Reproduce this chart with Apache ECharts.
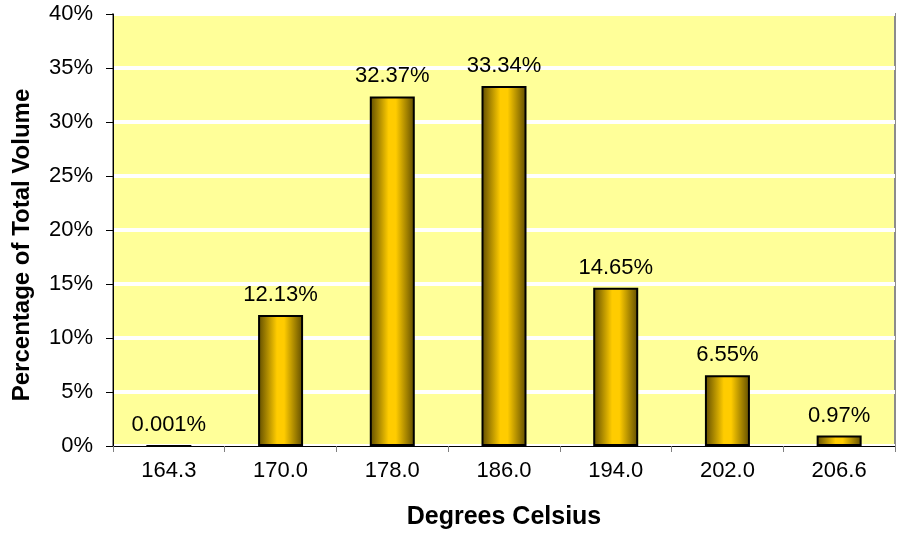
<!DOCTYPE html>
<html><head><meta charset="utf-8">
<script src="https://cdn.jsdelivr.net/npm/echarts@6/dist/echarts.min.js"></script>
<style>html,body{margin:0;padding:0;background:#fff}#c{width:901px;height:537px}</style>
</head><body><div id="c"></div>
<script>
const categories = ['164.3','170.0','178.0','186.0','194.0','202.0','206.6'];
const values = [0.001, 12.13, 32.37, 33.34, 14.65, 6.55, 0.97];
const labels = ['0.001%','12.13%','32.37%','33.34%','14.65%','6.55%','0.97%'];
const yTicks = [0,5,10,15,20,25,30,35,40];

const chart = echarts.init(document.getElementById('c'));
const font = "'Liberation Sans', Arial, sans-serif";
chart.setOption({
  animation: false,
  grid: { left: 113, right: 6, top: 14, bottom: 91, show: true, backgroundColor: '#FFFF99', borderColor: '#8C8C8C', borderWidth: 2 },
  graphic: [{
    type: 'text', x: 22, y: 245, rotation: Math.PI / 2,
    style: { text: 'Percentage of Total Volume', fontFamily: font, fontSize: 24, fontWeight: 'bold', fill: '#000', align: 'center', verticalAlign: 'middle' }
  }],
  xAxis: {
    type: 'category', data: categories,
    name: 'Degrees Celsius', nameLocation: 'middle', nameGap: 59,
    nameTextStyle: { fontFamily: font, fontSize: 25, fontWeight: 'bold', color: '#000' },
    axisLine: { lineStyle: { color: '#000', width: 1 } },
    axisTick: { show: true, alignWithLabel: false, length: 6, lineStyle: { color: '#808080' } },
    axisLabel: { fontFamily: font, fontSize: 22, color: '#000', margin: 14 },
    splitLine: { show: false }
  },
  yAxis: {
    type: 'value', min: 0, max: 40, interval: 5,
    axisLine: { show: true, lineStyle: { color: '#000', width: 1 } },
    axisTick: { show: true, length: 7, lineStyle: { color: '#000' } },
    axisLabel: { fontFamily: font, fontSize: 22, color: '#000', margin: 20, formatter: v => v + '%' },
    splitLine: { show: true, lineStyle: { color: '#FFFFFF', width: 4 } }
  },
  series: [{
    type: 'bar', data: values, barWidth: 45,
    itemStyle: {
      borderColor: '#000', borderWidth: 2,
      color: new echarts.graphic.LinearGradient(0, 0, 1, 0, [
        { offset: 0, color: '#5E4B00' },
        { offset: 0.42, color: '#FFCC00' },
        { offset: 0.58, color: '#FFCC00' },
        { offset: 1, color: '#5E4B00' }
      ])
    },
    label: {
      show: true, position: 'top', distance: 9,
      fontFamily: font, fontSize: 22, color: '#000',
      formatter: p => labels[p.dataIndex]
    }
  }]
});
</script></body></html>
